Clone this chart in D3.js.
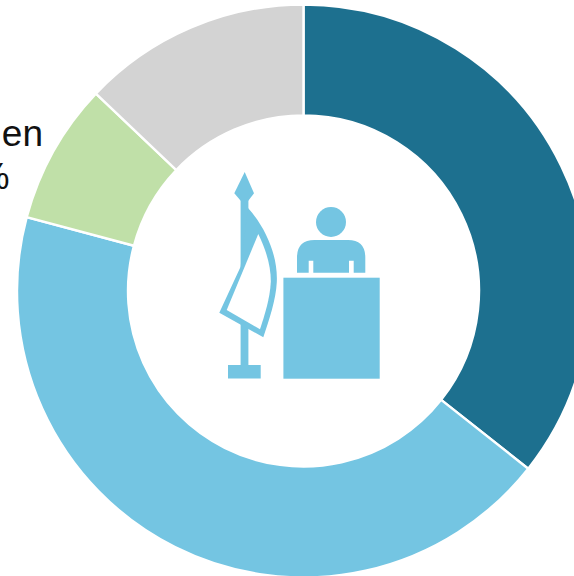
<!DOCTYPE html>
<html>
<head>
<meta charset="utf-8">
<script src="https://cdn.jsdelivr.net/npm/d3@7/dist/d3.min.js"></script>
<style>
html,body{margin:0;padding:0;background:#fff;overflow:hidden}
svg{display:block}
text{font-family:"Liberation Sans",Arial,sans-serif;fill:#111}
</style>
</head>
<body>
<svg id="chart" width="574" height="576"></svg>
<script>
// Share of each group, clockwise from twelve o'clock
const segments = ["A", "B", "C", "D"];
const shares = [35.65, 43.5, 7.95, 12.9];
const colours = ["#1d708f", "#74c5e2", "#c0e0a8", "#d3d3d3"];
const labelLines = ["en", "%"];

const svg = d3.select("#chart");
const donut = svg.append("g").attr("transform", "translate(303.5,291)");

const pie = d3.pie().sort(null).value(d => d)(shares);
const arc = d3.arc().innerRadius(175.5).outerRadius(286.5);

donut.selectAll("path")
  .data(pie)
  .join("path")
  .attr("d", arc)
  .attr("fill", (d, i) => colours[i])
  .attr("stroke", "#fff")
  .attr("stroke-width", 2.4);

// Label cut off by the left edge of the page
svg.append("text").attr("x", 43).attr("y", 146).attr("text-anchor", "end")
  .attr("font-size", 37).text(labelLines[0]);
svg.append("text").attr("x", 9.5).attr("y", 189).attr("text-anchor", "end")
  .attr("font-size", 36).text(labelLines[1]);

// Central pictogram: flag beside a person at a lectern
const icon = svg.append("g").attr("fill", colours[1]);
icon.append("rect").attr("x", 228).attr("y", 365).attr("width", 32.7).attr("height", 13.5);
icon.append("rect").attr("x", 240.6).attr("y", 198).attr("width", 7.8).attr("height", 170);
icon.append("path").attr("d", "M244.7 172L254 193.3L248.3 200.7H240.7L234.3 193.3Z");
icon.append("path").attr("d", "M248 208C266 228 278 256 276.8 282C276 300 269 320 263.3 337.3L219.3 312.7L240.6 266.7Z");
icon.append("path").attr("fill", "#fff")
  .attr("d", "M258.3 234C266 250 271 266 270.8 282C270 298 265 314 260 329.3L226.7 310Z");
icon.append("circle").attr("cx", 331).attr("cy", 222).attr("r", 15);
icon.append("path").attr("d", "M297 272.7V257.5Q297 240 314.5 240H348Q365.3 240 365.3 257.5V272.7H353.7V260.7H349V272.7H313.3V260.7H308.7V272.7Z");
icon.append("rect").attr("x", 283.4).attr("y", 277.7).attr("width", 96.3).attr("height", 101);
</script>
</body>
</html>
